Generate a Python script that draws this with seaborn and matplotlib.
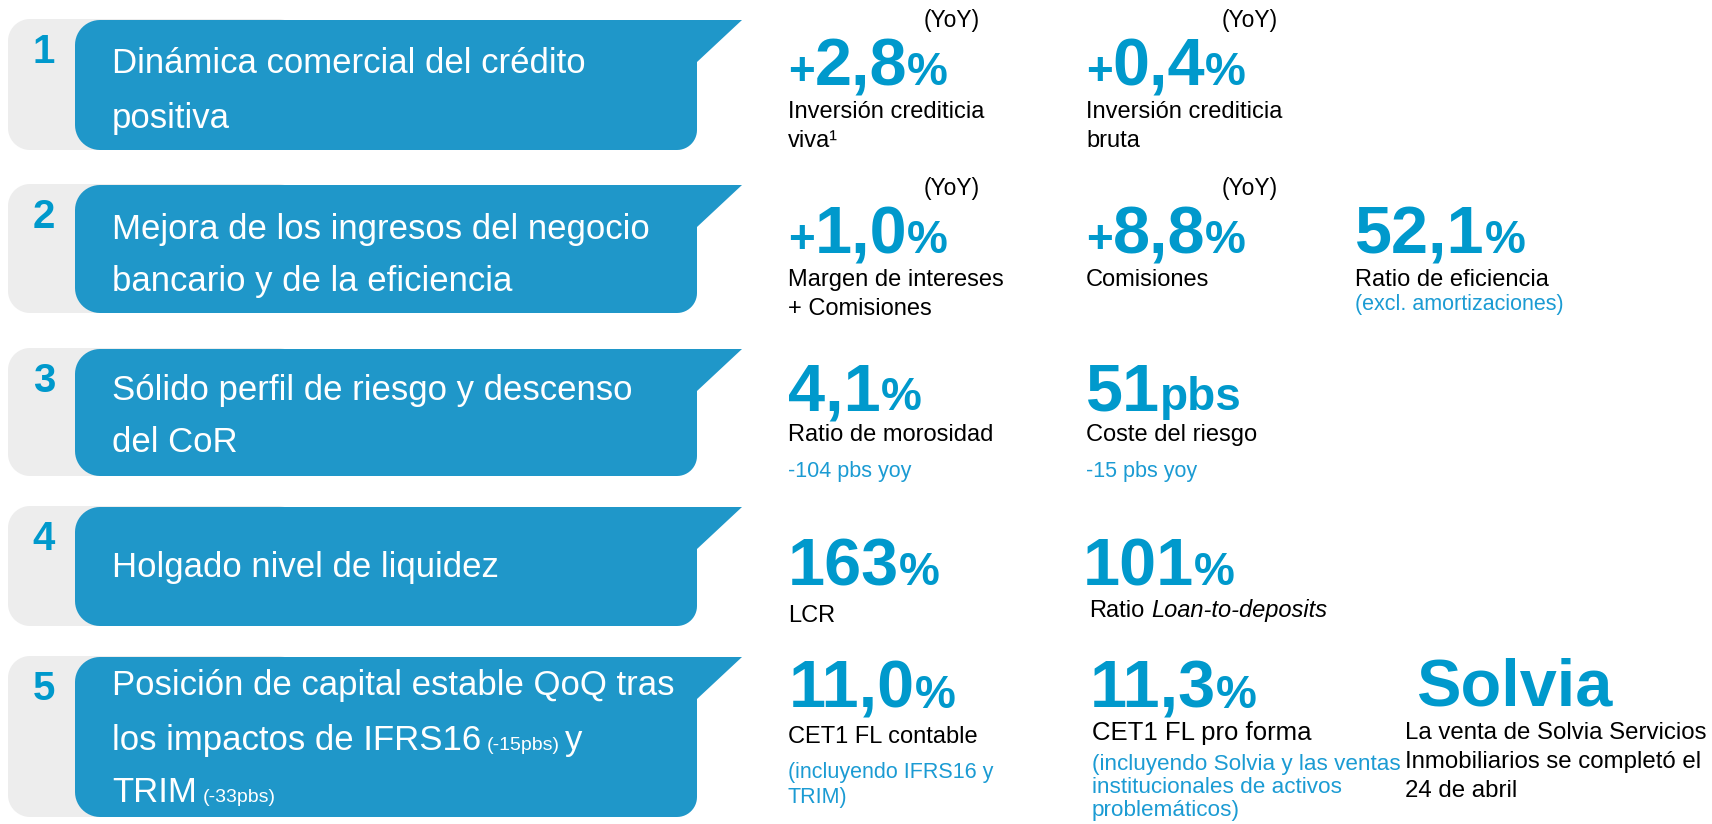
import numpy as np
import seaborn as sns
import matplotlib.pyplot as plt
from matplotlib.patches import Polygon

sns.set_theme(style="white")
plt.rcParams['font.family'] = ['Liberation Sans', 'DejaVu Sans']

# ---- content ----
row_numbers = ["1", "2", "3", "4", "5"]
# each title line is a list of (text, small?) pieces
row_titles = [
    [[("Dinámica comercial del crédito", False)], [("positiva", False)]],
    [[("Mejora de los ingresos del negocio", False)], [("bancario y de la eficiencia", False)]],
    [[("Sólido perfil de riesgo y descenso", False)], [("del CoR", False)]],
    [[("Holgado nivel de liquidez", False)]],
    [[("Posición de capital estable QoQ tras", False)],
     [("los impactos de IFRS16", False), (" (-15pbs) ", True), ("y", False)],
     [("TRIM", False), (" (-33pbs)", True)]],
]

metric_prefixes = ["+", "+", "+", "+", "", "", "", "", "", "", "", ""]
metric_values = ["2,8", "0,4", "1,0", "8,8", "52,1", "4,1", "51", "163", "101", "11,0", "11,3", "Solvia"]
metric_units = ["%", "%", "%", "%", "%", "%", "pbs", "%", "%", "%", "%", ""]
metric_yoy = [True, True, True, True, False, False, False, False, False, False, False, False]
metric_labels = [
    ["Inversión crediticia", "viva¹"],
    ["Inversión crediticia", "bruta"],
    ["Margen de intereses", "+ Comisiones"],
    ["Comisiones"],
    ["Ratio de eficiencia"],
    ["Ratio de morosidad"],
    ["Coste del riesgo"],
    ["LCR"],
    ["Ratio *Loan-to-deposits*"],
    ["CET1 FL contable"],
    ["CET1 FL pro forma"],
    ["La venta de Solvia Servicios", "Inmobiliarios se completó el", "24 de abril"],
]
metric_notes = [
    [], [], [], [],
    ["(excl. amortizaciones)"],
    ["-104 pbs yoy"],
    ["-15 pbs yoy"],
    [], [],
    ["(incluyendo IFRS16 y", "TRIM)"],
    ["(incluyendo Solvia y las ventas", "institucionales de activos", "problemáticos)"],
    [],
]

# ---- layout (pixels, y downward) ----
row_top = [20, 185, 349, 507, 657]
row_bottom = [150, 313, 476, 626, 817]
title_baselines = [[73, 128], [239, 291], [400, 452], [577], [695, 750, 802]]

metric_x = [788, 1086, 788, 1086, 1355, 788, 1086, 788, 1083, 789, 1090, 1416]
label_x = [788, 1086, 788, 1086, 1355, 788, 1086, 788, 1089, 788, 1092, 1405]
value_base = [85, 85, 253, 253, 253, 410, 410, 585, 585, 708, 708, 705]
label_base = [118, 118, 286, 286, 286, 441, 441, 622, 617, 743, 740, 739]
note_base = [0, 0, 0, 0, 310, 477, 477, 0, 0, 778, 770, 0]
yoy_x = [924, 1222, 924, 1222]
yoy_base = [27, 27, 195, 195]
label_size = [17, 17, 17, 17, 17, 17, 17, 17, 17, 17, 18.5, 17.3]
note_size = [16, 16, 16, 16, 15.5, 15.5, 15.5, 16, 16, 15.5, 16.2, 16]
label_step = 29
note_step = [25, 25, 25, 25, 25, 25, 25, 25, 25, 25, 23, 25]

BANNER = "#1F97C9"
GRAY = "#EDEDED"
VALUE = "#0099CC"
NOTE = "#1B9BD3"
INK = "#000000"

fig = plt.figure(figsize=(17.12, 8.24), dpi=100)
ax = fig.add_axes([0, 0, 1, 1])
ax.set_xlim(0, 1712)
ax.set_ylim(824, 0)
ax.axis('off')
renderer = fig.canvas.get_renderer()


def arc(cx, cy, r, a0, a1, n=14):
    a = np.radians(np.linspace(a0, a1, n))
    return np.column_stack([cx + r * np.cos(a), cy + r * np.sin(a)])


def rounded_rect(x0, x1, t, b, r):
    pts = [arc(x0 + r, t + r, r, 180, 270), arc(x1 - r, t + r, r, 270, 360),
           arc(x1 - r, b - r, r, 0, 90), arc(x0 + r, b - r, r, 90, 180)]
    return np.vstack(pts)


def banner(t, b, x0=75, x1=697, tip=742, notch=42, r=25, r2=20):
    pts = [arc(x0 + r, t + r, r, 180, 270),
           np.array([[tip, t], [x1, t + notch]]),
           arc(x1 - r2, b - r2, r2, 0, 90),
           arc(x0 + r, b - r, r, 90, 180)]
    return np.vstack(pts)


def draw_parts(x, y, parts):
    # parts: (text, size, weight, color, style); leading/trailing spaces become gaps
    for text, size, weight, color, style in parts:
        space = 0.278 * size * 100 / 72
        lead = len(text) - len(text.lstrip(' '))
        trail = len(text) - len(text.rstrip(' '))
        x += lead * space
        t = ax.text(x, y, text.strip(' '), fontsize=size, fontweight=weight,
                    color=color, fontstyle=style, va='baseline', ha='left')
        bb = t.get_window_extent(renderer)
        x = ax.transData.inverted().transform((bb.x1, bb.y0))[0] + trail * space
    return x


# banners
for i, num in enumerate(row_numbers):
    t, b = row_top[i], row_bottom[i]
    ax.add_patch(Polygon(rounded_rect(8, 300, t - 1, b, 22), closed=True,
                         facecolor=GRAY, edgecolor='none'))
    ax.add_patch(Polygon(banner(t, b), closed=True, facecolor=BANNER, edgecolor='none'))
    ax.text(44, t + 13, num, fontsize=29, fontweight='bold', color=VALUE,
            ha='center', va='top')
    for line, yb in zip(row_titles[i], title_baselines[i]):
        parts = [(txt, 14 if small else 25, 'normal', 'white', 'normal') for txt, small in line]
        draw_parts(112, yb, parts)

# metrics
for k, val in enumerate(metric_values):
    if val == "Solvia":
        parts = [(val, 48, 'bold', VALUE, 'normal')]
    else:
        parts = []
        if metric_prefixes[k]:
            parts.append((metric_prefixes[k], 33, 'bold', VALUE, 'normal'))
        parts.append((val, 48, 'bold', VALUE, 'normal'))
        parts.append((metric_units[k], 33, 'bold', VALUE, 'normal'))
    draw_parts(metric_x[k], value_base[k], parts)

    if metric_yoy[k]:
        ax.text(yoy_x[k], yoy_base[k], "(YoY)", fontsize=16.5, color=INK,
                va='baseline', ha='left')

    for j, lab in enumerate(metric_labels[k]):
        yb = label_base[k] + j * label_step
        if '*' in lab:
            pieces = lab.split('*')
            parts = [(p, label_size[k], 'normal', INK, 'italic' if m % 2 else 'normal')
                     for m, p in enumerate(pieces) if p]
            draw_parts(label_x[k], yb, parts)
        else:
            ax.text(label_x[k], yb, lab, fontsize=label_size[k], color=INK,
                    va='baseline', ha='left')

    for j, note in enumerate(metric_notes[k]):
        yb = note_base[k] + j * note_step[k]
        ax.text(label_x[k], yb, note, fontsize=note_size[k], color=NOTE,
                va='baseline', ha='left')

fig.savefig("out.png", dpi=100, facecolor='white')
